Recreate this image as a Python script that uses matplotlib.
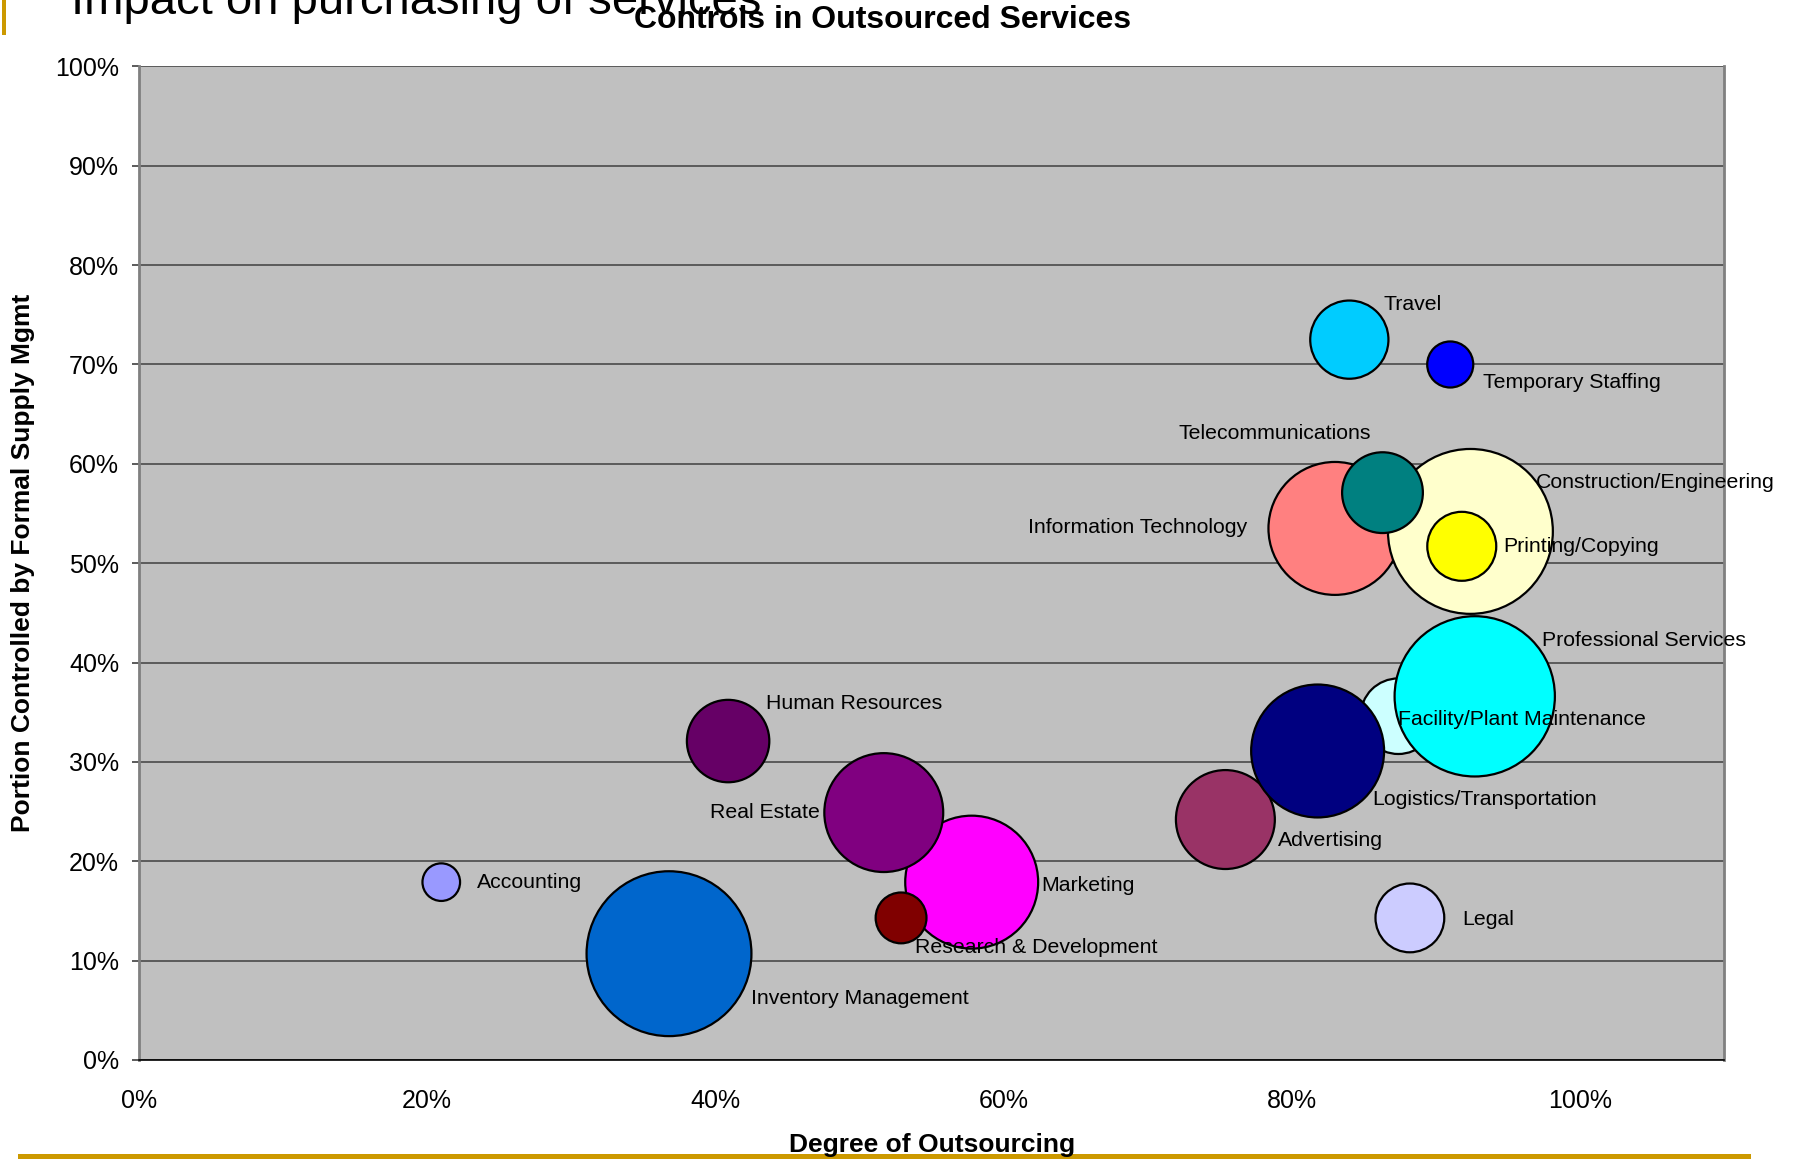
import matplotlib
matplotlib.use("Agg")
import matplotlib.pyplot as plt
from matplotlib.ticker import FuncFormatter
from matplotlib.lines import Line2D
from matplotlib.patches import Rectangle

plt.rcParams['font.family'] = ['Liberation Sans', 'DejaVu Sans']

# data (draw order matters for overlaps)
services = ['Accounting', 'Inventory Management', 'Human Resources', 'Marketing',
            'Real Estate', 'Research & Development', 'Advertising',
            'Facility/Plant Maintenance', 'Logistics/Transportation',
            'Professional Services', 'Legal', 'Information Technology',
            'Construction/Engineering', 'Telecommunications', 'Printing/Copying',
            'Travel', 'Temporary Staffing']
outsourcing = [0.210, 0.368, 0.409, 0.578, 0.517, 0.529, 0.754, 0.874, 0.818,
               0.927, 0.882, 0.830, 0.924, 0.863, 0.918, 0.840, 0.910]
controlled = [0.179, 0.107, 0.321, 0.179, 0.249, 0.143, 0.242, 0.346, 0.311,
              0.366, 0.143, 0.535, 0.532, 0.571, 0.517, 0.725, 0.700]
bubble_size = [5.2, 100, 25, 65, 52, 9.5, 36, 21, 65, 94.5, 17.4, 65, 100,
               24, 17.5, 22.5, 7.8]
colors = ['#9999FF', '#0066CC', '#660066', '#FF00FF', '#800080', '#800000',
          '#993366', '#CCFFFF', '#000080', '#00FFFF', '#CCCCFF', '#FF8080',
          '#FFFFCC', '#008080', '#FFFF00', '#00CCFF', '#0000FF']

# label offsets in points from bubble centre, and alignment
label_pos = {
    'Accounting': (25.5, 0, 'left'),
    'Inventory Management': (59.3, -32.1, 'left'),
    'Human Resources': (27.2, 27.2, 'left'),
    'Marketing': (50.3, -2.5, 'left'),
    'Real Estate': (-46.1, 0, 'right'),
    'Research & Development': (9.9, -21.4, 'left'),
    'Advertising': (37.9, -14.8, 'left'),
    'Facility/Plant Maintenance': (0, -2.5, 'left'),
    'Logistics/Transportation': (39.6, -34.6, 'left'),
    'Professional Services': (48.6, 40.4, 'left'),
    'Legal': (37.9, -0.8, 'left'),
    'Information Technology': (-63.4, 0.8, 'right'),
    'Construction/Engineering': (47, 35.4, 'left'),
    'Telecommunications': (-8.2, 42.8, 'right'),
    'Printing/Copying': (29.7, 0, 'left'),
    'Travel': (24.7, 25.5, 'left'),
    'Temporary Staffing': (23.9, -13.2, 'left'),
}

fig = plt.figure(figsize=(17.95, 11.61), dpi=100)
ax = fig.add_axes([0.0772, 0.087, 0.8833, 0.8558])
ax.set_facecolor('#C0C0C0')

s_max = 14093  # marker area (pt^2) for the biggest bubble
sizes = [b / 100.0 * s_max for b in bubble_size]
ax.scatter(outsourcing, controlled, s=sizes, c=colors, edgecolors='black',
           linewidths=1.6, zorder=3)

for name, x, y in zip(services, outsourcing, controlled):
    dx, dy, ha = label_pos[name]
    ax.annotate(name, (x, y), xytext=(dx, dy), textcoords='offset points',
                ha=ha, va='center', fontsize=15.3, zorder=4, annotation_clip=False)

ax.set_xlim(0, 1.1)
ax.set_ylim(0, 1.0)
ax.set_xticks([0, 0.2, 0.4, 0.6, 0.8, 1.0])
ax.set_yticks([i / 10 for i in range(11)])
pct = FuncFormatter(lambda v, p: '{:.0f}%'.format(v * 100))
ax.xaxis.set_major_formatter(pct)
ax.yaxis.set_major_formatter(pct)
ax.tick_params(axis='x', length=0, pad=21, labelsize=18)
ax.tick_params(axis='y', length=5, width=1.2, color='#404040', pad=9, labelsize=18)

ax.grid(axis='y', color='#404040', linewidth=1.1)
ax.set_axisbelow(True)
ax.spines['left'].set_color('#808080')
ax.spines['left'].set_linewidth(2)
ax.spines['right'].set_color('#808080')
ax.spines['right'].set_linewidth(2)
ax.spines['top'].set_visible(False)
ax.spines['bottom'].set_color('black')
ax.spines['bottom'].set_linewidth(1.2)

# slide decorations
gold = '#CC9900'
fig.add_artist(Rectangle((0.0011, 0.97), 0.0022, 0.03, transform=fig.transFigure,
                         color=gold, lw=0))
fig.add_artist(Line2D([0.0111, 0.9738], [0.0047, 0.0047], transform=fig.transFigure,
                      color=gold, linewidth=3.6))
fig.text(0.0396, 0.988, 'Impact on purchasing of services', fontsize=34,
         ha='left', va='baseline')
fig.text(0.4914, 0.983, 'Controls in Outsourced Services', fontsize=23,
         fontweight='bold', ha='center', va='center')
fig.text(0.519, 0.0138, 'Degree of Outsourcing', fontsize=19,
         fontweight='bold', ha='center', va='center')
fig.text(0.0128, 0.515, 'Portion Controlled by Formal Supply Mgmt', fontsize=19,
         fontweight='bold', ha='center', va='center', rotation=90)

fig.savefig('out.png', dpi=100)
